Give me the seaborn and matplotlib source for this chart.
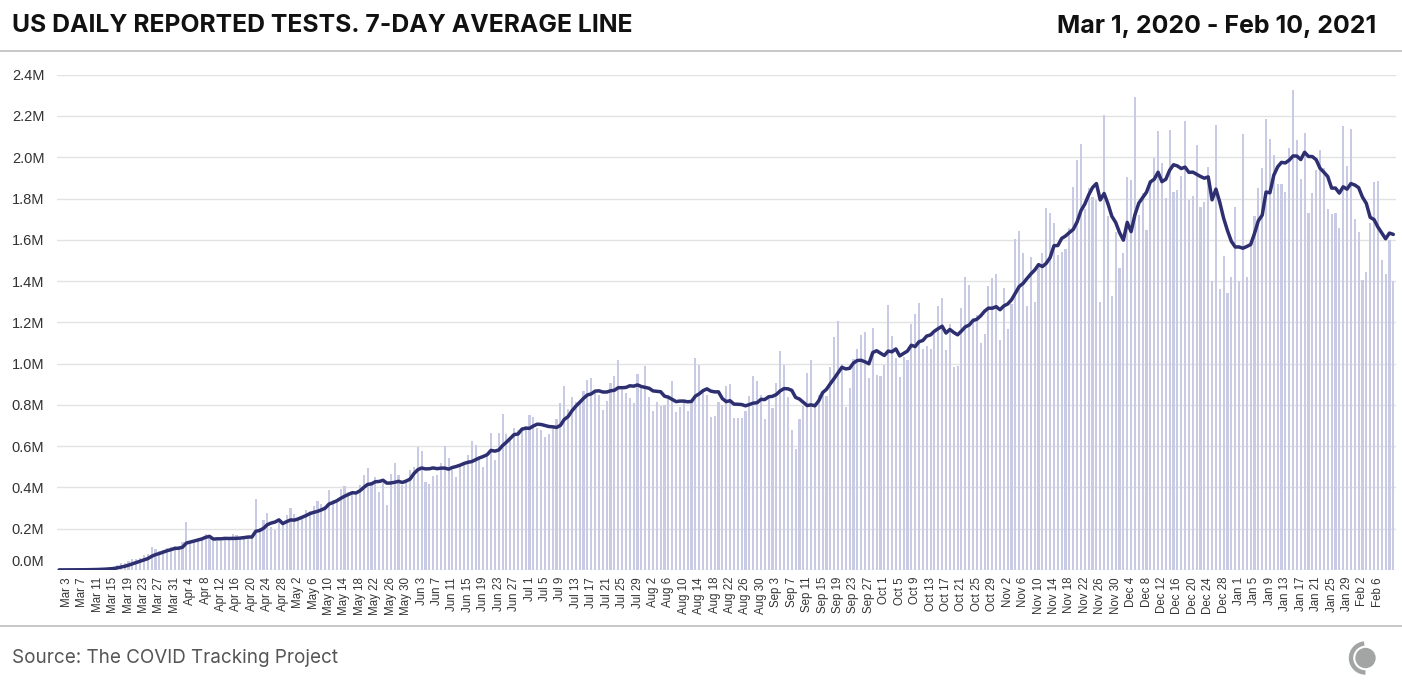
import numpy as np
import pandas as pd
import matplotlib
matplotlib.use("Agg")
import matplotlib.pyplot as plt
import seaborn as sns
from matplotlib.patches import Circle, Arc
from matplotlib.transforms import ScaledTranslation

# ---------------- data (daily reported tests, thousands) ----------------
start_date = "2020-03-01"
tests_mar = [0.5, 0.6, 0.8, 1.0, 1.2, 1.5, 1.8, 2.3, 2.8, 3.5, 4.5, 6, 8, 10, 14,
             24, 32, 32, 44, 52, 52, 58, 73, 76, 110, 100, 92, 97, 105, 110, 118]
tests_apr = [117, 134, 233, 130, 140, 145, 154, 173, 166, 140, 140, 140, 160, 150, 174,
             170, 150, 155, 160, 160, 344, 202, 242, 275, 210, 194, 234, 218, 267, 299]
tests_may = [270, 250, 250, 290, 285, 310, 334, 320, 310, 388, 340, 345, 391, 407, 380,
             370, 380, 412, 460, 493, 428, 450, 380, 420, 315, 465, 517, 460, 412, 428, 485]
tests_jun = [500, 598, 578, 428, 417, 456, 460, 517, 601, 541, 485, 452, 500, 517, 557,
             625, 606, 546, 500, 560, 663, 532, 663, 756, 660, 630, 690, 680, 695, 700]
tests_jul = [751, 740, 690, 680, 646, 660, 690, 730, 808, 892, 779, 840, 816, 820, 868,
             921, 930, 872, 850, 776, 820, 908, 940, 1018, 870, 860, 832, 808, 950, 885, 989]
tests_aug = [840, 771, 816, 795, 800, 850, 916, 764, 789, 816, 771, 813, 1028, 994, 872,
             850, 740, 745, 813, 800, 892, 902, 735, 735, 735, 770, 843, 940, 916, 848, 730]
tests_sep = [827, 787, 905, 1062, 994, 840, 679, 587, 730, 795, 953, 1018, 808, 848, 864,
             843, 985, 1131, 1207, 998, 792, 884, 1023, 1071, 1139, 1154, 932, 1173, 945, 940]
tests_oct = [994, 1285, 1134, 1026, 937, 1031, 1018, 1192, 1241, 1296, 1071, 1086, 1071, 1144, 1280,
             1320, 1066, 1192, 985, 990, 1271, 1422, 1381, 1220, 1236, 1102, 1144, 1378, 1417, 1435, 1116]
tests_nov = [1365, 1168, 1289, 1603, 1643, 1538, 1281, 1519, 1300, 1474, 1538, 1753, 1732, 1683, 1527,
             1540, 1556, 1656, 1858, 1987, 2065, 1750, 1850, 1806, 1793, 1301, 2206, 1716, 1328, 1640]
tests_dec = [1462, 1535, 1905, 1890, 2291, 1721, 1826, 1648, 1882, 1996, 2128, 1971, 1802, 2133, 1834,
             1842, 1907, 2176, 1793, 1810, 2060, 1761, 1782, 1952, 1398, 2157, 1361, 1520, 1340, 1420, 1760]
tests_jan = [1400, 2113, 1419, 1587, 1716, 1850, 1950, 2185, 2088, 2012, 1871, 1870, 1832, 2044, 2327,
             2084, 1895, 2117, 1729, 1826, 1939, 2036, 1950, 1748, 1726, 1729, 1656, 2152, 1958, 2138, 1700]
tests_feb = [1638, 1406, 1443, 1680, 1881, 1886, 1503, 1435, 1600, 1398]

y_ticks_m = [0.0, 0.2, 0.4, 0.6, 0.8, 1.0, 1.2, 1.4, 1.6, 1.8, 2.0, 2.2, 2.4]
tick_every = 4
first_tick = 2
last_tick = 342

title_left = "US DAILY REPORTED TESTS. 7-DAY AVERAGE LINE"
title_right = "Mar 1, 2020 - Feb 10, 2021"
source_text = "Source: The COVID Tracking Project"

# ---------------- assemble ----------------
tests_k = (tests_mar + tests_apr + tests_may + tests_jun + tests_jul + tests_aug +
           tests_sep + tests_oct + tests_nov + tests_dec + tests_jan + tests_feb)
dates = pd.date_range(start_date, periods=len(tests_k), freq="D")
df = pd.DataFrame({"day": np.arange(len(tests_k)),
                   "date": dates,
                   "tests": np.array(tests_k, dtype=float) * 1000})
df["avg"] = df["tests"].rolling(7, min_periods=1).mean()

bar_color = "#c9cae3"
line_color = "#2d2f70"
grid_color = "#e2e2e2"
text_color = "#333333"

sns.set_style("white")
plt.rcParams["font.family"] = ["Liberation Sans", "DejaVu Sans"]

W, H = 1402, 691
fig = plt.figure(figsize=(W / 100, H / 100), dpi=100)
ax_left, ax_right, ax_top, ax_bot = 57, 1396, 74.7, 570
ax = fig.add_axes([ax_left / W, 1 - ax_bot / H, (ax_right - ax_left) / W, (ax_bot - ax_top) / H])

sns.barplot(data=df, x="day", y="tests", native_scale=True, color=bar_color,
            saturation=1, width=0.55, errorbar=None, linewidth=0, ax=ax, zorder=2)
sns.lineplot(data=df, x="day", y="avg", color=line_color, linewidth=2.5, ax=ax,
             zorder=3, solid_capstyle="round", solid_joinstyle="round")

ax.set_xlim(-0.55, len(tests_k) - 0.3)
ax.set_ylim(0, 2.4e6)
ax.set_yticks([v * 1e6 for v in y_ticks_m])
ax.set_yticklabels([f"{v:.1f}M" for v in y_ticks_m], fontsize=10.5, color=text_color)
ax.grid(axis="y", color=grid_color, linewidth=1, zorder=0)
ax.grid(axis="x", visible=False)
ax.set_axisbelow(True)

tick_idx = list(range(first_tick, last_tick + 1, tick_every))
ax.set_xticks(tick_idx)
ax.set_xticklabels([f"{dates[i]:%b} {dates[i].day}" for i in tick_idx],
                   rotation=90, fontsize=8.3, color=text_color)
ax.tick_params(axis="both", length=0)
ax.tick_params(axis="y", pad=9)
ax.tick_params(axis="x", pad=5)
ax.set_xlabel("")
ax.set_ylabel("")
for s in ax.spines.values():
    s.set_visible(False)

# lift the 0.0M label a little above its gridline, as in the reference
lab0 = ax.get_yticklabels()[0]
lab0.set_transform(lab0.get_transform() + ScaledTranslation(0, 10 / 100, fig.dpi_scale_trans))

# ---------------- header / footer ----------------
fig.text(12 / W, 1 - 26 / H, title_left, fontsize=17.8, fontweight="bold",
         family=["Inter", "DejaVu Sans"], va="center", ha="left", color="#111111")
fig.text(1376 / W, 1 - 26 / H, title_right, fontsize=18, fontweight="bold",
         family=["Inter", "DejaVu Sans"], va="center", ha="right", color="#111111")
fig.add_artist(plt.Line2D([0, 1], [1 - 51 / H, 1 - 51 / H], color="#bdbdbd", linewidth=1.2))
fig.add_artist(plt.Line2D([0, 1], [1 - 625.5 / H, 1 - 625.5 / H], color="#bdbdbd", linewidth=1.2))
fig.text(12 / W, 1 - 658 / H, source_text, fontsize=13.6, family=["Inter", "DejaVu Sans"],
         va="center", ha="left", color="#555555")

# logo
logo_ax = fig.add_axes([1340 / W, 1 - 682 / H, 48 / W, 48 / H])
logo_ax.set_xlim(-24, 24)
logo_ax.set_ylim(-24, 24)
logo_ax.set_aspect("equal")
logo_ax.axis("off")
logo_ax.add_patch(Circle((1.5, 0), 9.5, color="#a3a5a4"))
logo_ax.add_patch(Arc((1.5, 0), 29, 29, theta1=95, theta2=270, color="#a3a5a4", linewidth=3.2))

fig.savefig("out.png", dpi=100)
